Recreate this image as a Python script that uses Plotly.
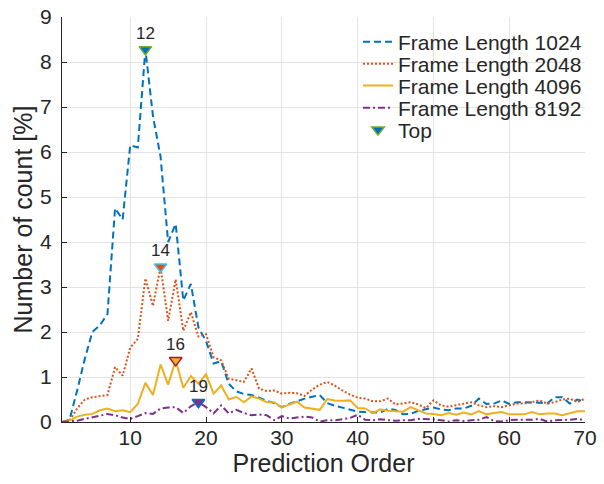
import plotly.graph_objects as go

orders = list(range(1, 71))

fl1024 = [0.0, 0.05, 0.7, 1.4, 2.0, 2.15, 2.4, 4.75, 4.5, 6.15,
          6.1, 8.28, 6.8, 5.9, 4.0, 4.4, 2.7, 3.07, 2.1, 1.8,
          1.3, 1.35, 0.85, 0.68, 0.62, 0.6, 0.54, 0.47, 0.42, 0.33,
          0.4, 0.46, 0.52, 0.56, 0.6, 0.42, 0.36, 0.32, 0.27, 0.23,
          0.22, 0.22, 0.21, 0.29, 0.27, 0.17, 0.18, 0.25, 0.28, 0.32,
          0.28, 0.26, 0.3, 0.3, 0.36, 0.52, 0.4, 0.41, 0.48, 0.4,
          0.44, 0.44, 0.44, 0.43, 0.41, 0.55, 0.55, 0.41, 0.5, 0.45]

fl2048 = [0.0, 0.03, 0.3, 0.5, 0.55, 0.57, 0.6, 1.22, 1.03, 1.65,
          1.85, 3.19, 2.58, 3.45, 2.25, 3.17, 2.03, 2.44, 1.9, 1.95,
          1.44, 1.37, 0.96, 0.93, 0.89, 1.19, 0.74, 0.69, 0.7, 0.63,
          0.65, 0.64, 0.58, 0.72, 0.83, 0.89, 0.81, 0.7, 0.61, 0.54,
          0.52, 0.46, 0.46, 0.52, 0.39, 0.41, 0.44, 0.39, 0.31, 0.48,
          0.37, 0.34, 0.37, 0.41, 0.44, 0.37, 0.33, 0.35, 0.33, 0.37,
          0.41, 0.41, 0.44, 0.48, 0.41, 0.44, 0.5, 0.52, 0.44, 0.52]

fl4096 = [0.0, 0.03, 0.12, 0.16, 0.18, 0.26, 0.3, 0.24, 0.26, 0.22,
          0.4, 0.87, 0.6, 1.28, 0.83, 1.37, 0.76, 1.02, 0.85, 1.06,
          0.63, 0.81, 0.5, 0.56, 0.44, 0.57, 0.52, 0.44, 0.44, 0.32,
          0.39, 0.45, 0.32, 0.3, 0.27, 0.51, 0.48, 0.47, 0.48, 0.31,
          0.3, 0.2, 0.28, 0.25, 0.24, 0.23, 0.33, 0.26, 0.19, 0.18,
          0.15, 0.2, 0.16, 0.21, 0.17, 0.24, 0.17, 0.2, 0.22, 0.17,
          0.17, 0.17, 0.22, 0.17, 0.19, 0.19, 0.15, 0.19, 0.24, 0.24]

fl8192 = [0.0, 0.01, 0.03, 0.07, 0.1, 0.14, 0.18, 0.15, 0.1, 0.07,
          0.13, 0.2, 0.18, 0.3, 0.32, 0.33, 0.2, 0.35, 0.44, 0.33,
          0.19, 0.37, 0.19, 0.27, 0.2, 0.15, 0.17, 0.15, 0.04, 0.13,
          0.08, 0.1, 0.12, 0.1, 0.01, 0.04, 0.04, 0.06, 0.09, 0.16,
          0.05, 0.04, 0.06, 0.04, 0.03, 0.04, 0.04, 0.07, 0.07, 0.06,
          0.04, 0.01, 0.04, 0.02, 0.04, 0.05, 0.11, 0.02, 0.01, 0.04,
          0.05, 0.05, 0.05, 0.07, 0.01, 0.04, 0.04, 0.05, 0.07, 0.04]

series_names = ["Frame Length 1024", "Frame Length 2048",
                "Frame Length 4096", "Frame Length 8192"]
top_orders = [12, 14, 16, 19]
top_labels = ["12", "14", "16", "19"]

colors = ["#0072BD", "#D95319", "#EDB120", "#7E2F8E"]
edge_colors = ["#77AC30", "#4DBEEE", "#A2142F", "#0072BD"]
dashes = ["7px,4px", "2px,2px", "solid", "7px,3px,2px,3px"]

all_series = [fl1024, fl2048, fl4096, fl8192]
top_values = [all_series[i][top_orders[i] - 1] for i in range(4)]

# one single-entry legend per trace so entries can be packed tightly
legend_ids = ["legend", "legend2", "legend3", "legend4", "legend5"]
legend_y = [0.938, 0.884, 0.830, 0.775, 0.721]

fig = go.Figure()
for i, (name, ys, c, d) in enumerate(zip(series_names, all_series, colors, dashes)):
    fig.add_trace(go.Scatter(
        x=orders, y=ys, mode="lines", name=name, legend=legend_ids[i],
        line=dict(color=c, width=2, dash=d),
    ))

fig.add_trace(go.Scatter(
    x=top_orders, y=top_values, mode="markers", name="Top", legend=legend_ids[4],
    marker=dict(symbol="triangle-down", size=11, color=colors,
                line=dict(color=edge_colors, width=1.5)),
))

for xo, yv, lab in zip(top_orders, top_values, top_labels):
    fig.add_annotation(x=xo, y=yv, text=lab, showarrow=False,
                       yshift=16, font=dict(size=17, color="#262626"))

font_family = "Liberation Sans, Arial, sans-serif"
legend_common = dict(x=0.566, xanchor="left", yanchor="middle",
                     bgcolor="rgba(0,0,0,0)", borderwidth=0,
                     font=dict(size=21, color="#262626"),
                     itemwidth=30)
layout_legends = {}
for lid, ly in zip(legend_ids, legend_y):
    layout_legends[lid] = dict(legend_common, y=ly)

fig.update_layout(
    width=604, height=484,
    margin=dict(l=62, r=19, t=17, b=62, autoexpand=False),
    paper_bgcolor="white", plot_bgcolor="white",
    font=dict(family=font_family, color="#262626"),
    showlegend=True,
    **layout_legends,
)
fig.update_xaxes(
    range=[1, 70], tick0=0, dtick=10, automargin=False,
    showgrid=True, gridcolor="#e3e3e3", gridwidth=1,
    zeroline=False, showline=True, linecolor="#262626", linewidth=1,
    ticks="inside", ticklen=5, tickcolor="#262626",
    tickfont=dict(size=21, color="#262626"),
    ticklabelstandoff=-3, ticklabeloverflow="allow",
    title=dict(text="Prediction Order", font=dict(size=25, color="#262626"), standoff=4),
)
fig.update_yaxes(
    range=[0, 9], tick0=0, dtick=1, automargin=False,
    showgrid=True, gridcolor="#e3e3e3", gridwidth=1,
    zeroline=False, showline=True, linecolor="#262626", linewidth=1,
    ticks="inside", ticklen=5, tickcolor="#262626",
    tickfont=dict(size=21, color="#262626"),
    ticklabelstandoff=5, ticklabeloverflow="allow",
    title=dict(text="Number of count [%]", font=dict(size=25, color="#262626"), standoff=0),
)

fig.write_html("out.html",
               config={"displayModeBar": False},
               post_script="document.body.style.margin='0';document.body.style.overflow='hidden';")
